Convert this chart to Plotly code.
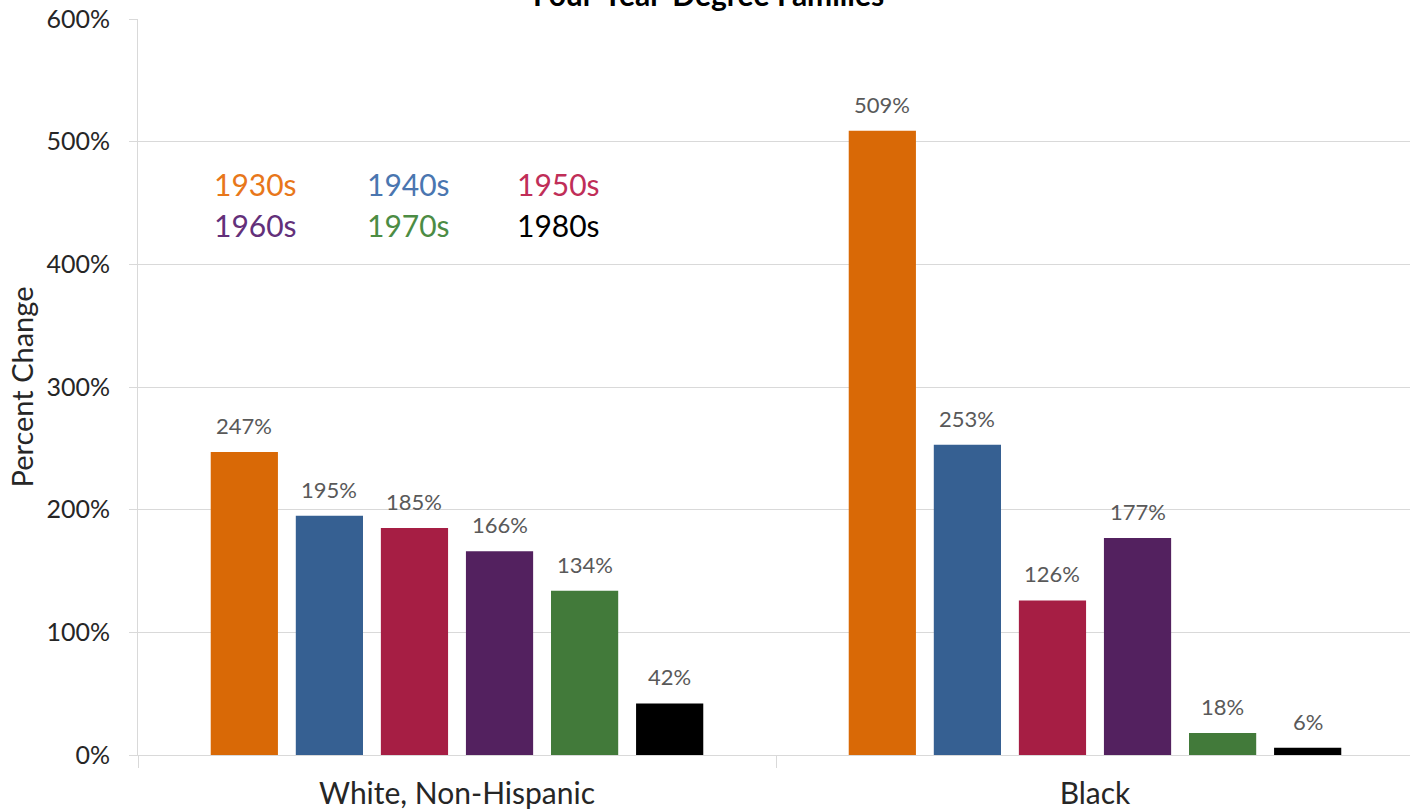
import plotly.graph_objects as go

categories = ["White, Non-Hispanic", "Black"]
decades = ["1930s", "1940s", "1950s", "1960s", "1970s", "1980s"]
values = {
    "1930s": [247, 509],
    "1940s": [195, 253],
    "1950s": [185, 126],
    "1960s": [166, 177],
    "1970s": [134, 18],
    "1980s": [42, 6],
}
bar_colors = ["#D96906", "#366092", "#A61E44", "#53215F", "#427A3A", "#000000"]
legend_colors = ["#E8771A", "#4A76B0", "#C02E58", "#63307A", "#4C8C44", "#000000"]
title_text = "Four-Year-Degree Families"
y_title = "Percent Change"

FONT = "Lato"

W, H = 1410, 811
ml, mr, mt, mb = 138, 0, 19, 56
pw = W - ml - mr
cat_px = 638
bargap = 0.2
n = len(decades)
pitch_px = cat_px * (1 - bargap) / n

fig = go.Figure()
for i, (d, c) in enumerate(zip(decades, bar_colors)):
    v = values[d]
    fig.add_trace(go.Bar(
        x=categories, y=v, name=d, marker=dict(color=c, line=dict(width=0)),
        showlegend=False, hoverinfo="x+y+name",
    ))
    # data labels placed over each bar
    for cat, val in zip(categories, v):
        fig.add_annotation(
            x=cat, y=val, xref="x", yref="y", text=f"{val}%",
            xanchor="center", yanchor="bottom", showarrow=False,
            xshift=(i - (n - 1) / 2) * pitch_px, yshift=11,
            font=dict(family=FONT, size=22, color="#595959"),
        )

fig.update_layout(
    width=W, height=H,
    margin=dict(l=ml, r=mr, t=mt, b=mb),
    paper_bgcolor="white", plot_bgcolor="white",
    barmode="group", bargap=bargap, bargroupgap=0.21,
    font=dict(family=FONT, color="#262626"),
    xaxis=dict(
        type="category", range=[-0.5, -0.5 + pw / cat_px],
        tickson="boundaries", ticks="outside", ticklen=12, tickcolor="#D9D9D9",
        tickwidth=1, showline=True, linecolor="#D9D9D9", linewidth=1,
        showgrid=False, tickfont=dict(family=FONT, size=30, color="#262626"),
        zeroline=False, ticklabelstandoff=12, automargin=False,
    ),
    yaxis=dict(
        range=[0, 600], dtick=100, ticksuffix="%", showgrid=True,
        gridcolor="#D9D9D9", gridwidth=1, ticks="outside", ticklen=8,
        tickcolor="#D9D9D9", showline=True, linecolor="#D9D9D9",
        zeroline=False, tickfont=dict(family=FONT, size=25, color="#262626"),
        ticklabelstandoff=14, automargin=False,
        title=dict(text=y_title, font=dict(family=FONT, size=29, color="#262626"), standoff=4),
    ),
)

# title (mostly cut off above the top edge as in the reference)
fig.add_annotation(text=f"<b>{title_text}</b>", xref="paper", yref="paper",
                   x=(708 - ml) / pw, y=1, yanchor="bottom", xanchor="center",
                   yshift=5, showarrow=False,
                   font=dict(family=FONT, size=30, color="#000000"))

# text legend
leg_x = [212, 365, 515]
leg_y = [184, 225]
for i, (d, c) in enumerate(zip(decades, legend_colors)):
    r, k = divmod(i, 3)
    fig.add_annotation(text=d, xref="paper", yref="paper",
                       x=(leg_x[k] - ml) / pw, y=1 - (leg_y[r] - mt) / (H - mt - mb),
                       xanchor="left", yanchor="middle", showarrow=False,
                       font=dict(family=FONT, size=30, color=c))

fig.write_html("out.html", config={"displayModeBar": False},
               post_script="document.body.style.margin='0';document.body.style.padding='0';")
